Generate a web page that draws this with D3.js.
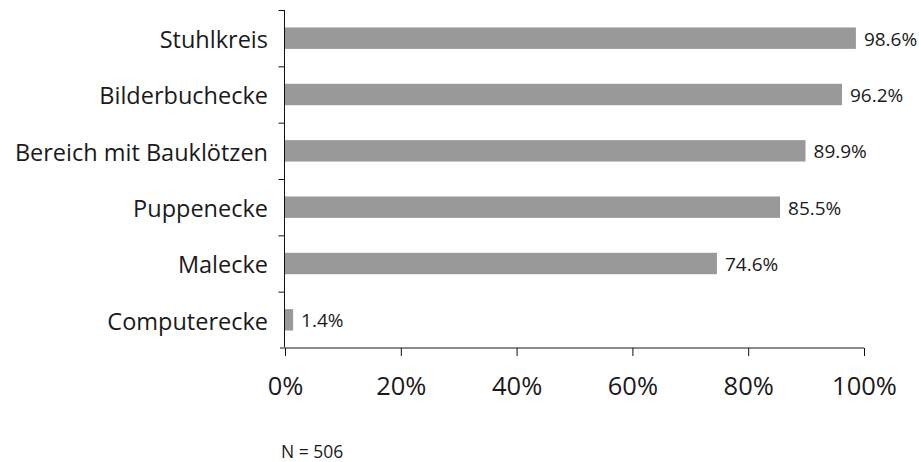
<!DOCTYPE html>
<html><head><meta charset="utf-8">
<script src="https://cdn.jsdelivr.net/npm/d3@7"></script>
<style>body{margin:0;background:#fff}text{font-family:"Open Sans",Lato,sans-serif;fill:#1a1a1a}</style>
</head><body>
<svg id="c" width="919" height="462"></svg>
<script>
const categories = ["Stuhlkreis","Bilderbuchecke","Bereich mit Bauklötzen","Puppenecke","Malecke","Computerecke"];
const values = [98.6, 96.2, 89.9, 85.5, 74.6, 1.4];
const xTicks = [0,20,40,60,80,100];
const note = "N = 506";

(function(){
const svg = d3.select("#c");
const L = 285, R = 864, T = 10, B = 348;
const x = d3.scaleLinear().domain([0,100]).range([L,R]);
const y = d3.scaleBand().domain(categories).range([T,B]).paddingInner(0.62).paddingOuter(0.31);

svg.selectAll("rect.bar").data(values).join("rect")
  .attr("x", x(0)).attr("y",(d,i)=>y(categories[i]))
  .attr("width", d=>x(d)-x(0)).attr("height", y.bandwidth())
  .attr("fill","#999999");

svg.selectAll("text.val").data(values).join("text")
  .attr("x", d=>x(d)+8).attr("y",(d,i)=>y(categories[i])+y.bandwidth()/2+1)
  .attr("dy","0.35em").attr("font-size",19).text(d=>d.toFixed(1)+"%");

// y axis (boundary ticks)
const yb = d3.scaleLinear().domain([0,categories.length]).range([T,B]);
const ya = svg.append("g").attr("transform",`translate(${L-0.5},0)`)
  .call(d3.axisLeft(yb).tickValues(d3.range(categories.length)).tickSize(6).tickSizeOuter(0).tickFormat(""));
ya.select(".domain").attr("stroke","#111").attr("d",`M0,${T}V${B+1}`);
ya.selectAll(".tick line").attr("stroke","#111");
svg.selectAll("text.cat").data(categories).join("text")
  .attr("x",268).attr("y",d=>y(d)+y.bandwidth()/2+1.5).attr("dy","0.35em")
  .attr("text-anchor","end").attr("font-size",23.5).text(d=>d);

// x axis
const xa = svg.append("g").attr("transform",`translate(0,${B})`)
  .call(d3.axisBottom(x).tickValues(xTicks).tickSize(8).tickSizeOuter(0).tickFormat(d=>d+"%"));
xa.select(".domain").attr("stroke","#8a8a8a").attr("stroke-width",2).attr("d",`M${L-5},0H${R}`);
xa.selectAll(".tick line").attr("stroke","#111");
xa.selectAll(".tick text").attr("y",38).attr("dy","0.35em").attr("font-size",25.5)
  .attr("font-family",'"Open Sans",Lato,sans-serif').attr("fill","#1a1a1a");

svg.append("text").attr("x",281).attr("y",452).attr("dy","0.35em").attr("font-size",17.5).text(note);
})();
</script>
</body></html>
